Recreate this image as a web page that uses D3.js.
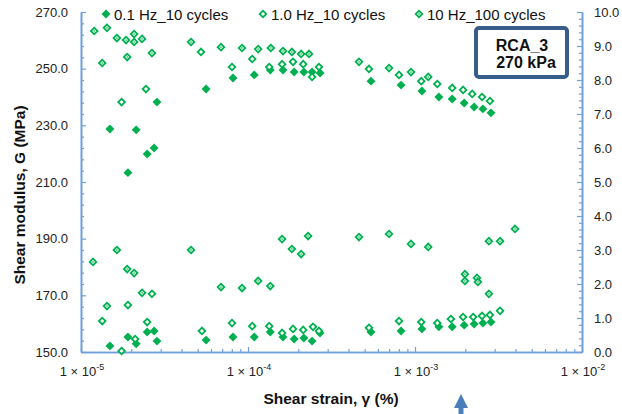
<!DOCTYPE html>
<html>
<head>
<meta charset="utf-8">
<script src="https://cdn.jsdelivr.net/npm/d3@7"></script>
<style>
  body { margin: 0; background: #fff; }
  svg { display: block; font-family: Arial, "Liberation Sans", sans-serif; }
</style>
</head>
<body>
<svg id="chart" width="622" height="414"></svg>
<script>
// Shear strain in %, shear modulus in MPa, damping ratio in %.
const seriesNames = ["0.1 Hz_10 cycles", "1.0 Hz_10 cycles", "10 Hz_100 cycles"];

// 0.1 Hz, 10 cycles (same strain for G and D)
const strainSlow = [1.49e-5, 1.91e-5, 2.14e-5, 2.49e-5, 2.74e-5, 2.85e-5, 5.61e-5, 8.13e-5,
  1.09e-4, 1.36e-4, 1.62e-4, 1.89e-4, 2.16e-4, 2.42e-4, 2.70e-4, 5.45e-4, 8.25e-4,
  1.10e-3, 1.39e-3, 1.67e-3, 1.97e-3, 2.26e-3, 2.55e-3, 2.85e-3];
const modulusSlow = [228.7, 213.3, 228.4, 219.9, 222.0, 238.2, 242.8, 246.7,
  247.8, 249.5, 249.5, 248.8, 248.8, 248.8, 248.5, 245.6, 244.2,
  242.1, 240.0, 239.3, 237.9, 236.5, 235.8, 234.4];
const dampingSlow = [0.18, 0.44, 0.24, 0.59, 0.62, 0.32, 0.35, 0.44,
  0.44, 0.59, 0.44, 0.38, 0.41, 0.32, 0.56, 0.59, 0.62,
  0.68, 0.74, 0.74, 0.79, 0.82, 0.85, 0.88];

// 1.0 Hz, 10 cycles
const strainMidG = [1.75e-5, 2.45e-5, 5.23e-5, 8.02e-5, 1.06e-4, 1.34e-4, 1.60e-4, 1.86e-4,
  2.14e-4, 2.42e-4, 2.66e-4, 5.30e-4, 8.02e-4, 1.09e-3, 1.36e-3, 1.67e-3,
  1.94e-3, 2.20e-3, 2.52e-3, 2.81e-3];
const modulusMid = [238.2, 242.8, 255.9, 250.6, 253.4, 250.6, 251.6, 252.4,
  251.6, 247.1, 250.6, 249.9, 247.8, 245.6, 244.6, 243.2,
  242.5, 241.1, 240.0, 238.6];
const strainMidD = [1.34e-5, 1.75e-5, 1.91e-5, 2.11e-5, 2.49e-5, 2.66e-5, 5.30e-5, 8.02e-5,
  1.06e-4, 1.34e-4, 1.60e-4, 1.86e-4, 2.14e-4, 2.45e-4, 2.66e-4, 5.30e-4,
  8.02e-4, 1.09e-3, 1.36e-3, 1.64e-3, 1.94e-3, 2.23e-3, 2.52e-3, 2.81e-3, 3.23e-3];
const dampingMid = [0.91, 0.03, 1.38, 0.38, 0.88, 1.71, 0.62, 0.85,
  0.76, 0.76, 0.56, 0.68, 0.65, 0.74, 0.62, 0.71,
  0.91, 0.88, 0.85, 0.97, 1.03, 1.03, 1.06, 1.09, 1.21];

// 10 Hz, 100 cycles
const strainFastG = [1.20e-5, 1.34e-5, 1.43e-5, 1.64e-5, 1.86e-5, 1.89e-5, 2.08e-5, 2.08e-5,
  2.32e-5, 2.66e-5, 4.56e-5, 6.89e-5, 9.21e-5, 1.15e-4, 1.37e-4, 1.62e-4,
  1.83e-4, 2.08e-4, 2.32e-4, 4.62e-4, 6.99e-4, 9.46e-4, 1.20e-3];
const modulusFast = [263.3, 252.0, 264.4, 260.8, 260.1, 254.1, 262.2, 259.4,
  260.5, 255.5, 259.4, 257.6, 257.3, 256.9, 257.3, 256.2,
  255.9, 255.2, 255.2, 252.4, 250.2, 248.8, 247.1];
const strainFastD = [1.18e-5, 1.43e-5, 1.64e-5, 1.89e-5, 2.08e-5, 2.32e-5, 4.56e-5, 6.89e-5,
  9.21e-5, 1.15e-4, 1.36e-4, 1.60e-4, 1.83e-4, 2.08e-4, 2.29e-4, 4.62e-4,
  6.99e-4, 9.46e-4, 1.20e-3, 1.99e-3, 1.99e-3, 2.35e-3, 2.38e-3, 2.77e-3,
  2.77e-3, 3.23e-3, 3.97e-3];
const dampingFast = [2.65, 1.35, 3.00, 2.44, 2.32, 1.74, 3.00, 1.91,
  1.88, 2.09, 1.94, 3.32, 3.03, 2.88, 3.41, 3.38,
  3.47, 3.18, 3.09, 2.29, 2.09, 2.18, 2.06, 1.71,
  3.26, 3.26, 3.62];

// Axis ticks
const modulusTicks = [150, 170, 190, 210, 230, 250, 270];
const dampingTicks = [0, 1, 2, 3, 4, 5, 6, 7, 8, 9, 10];
const strainTicks = [1e-5, 1e-4, 1e-3, 1e-2];
const strainTickExps = ["-5", "-4", "-3", "-2"];
const boxLines = ["RCA_3", "270 kPa"];

const green = "#00B050";
const axisBlue = "#6FA0DA";

const svg = d3.select("#chart");
const plot = { left: 81, right: 582, top: 12, bottom: 352 };

const x = d3.scaleLog().domain([1e-5, 1e-2]).range([plot.left, plot.right]);
const yG = d3.scaleLinear().domain([150, 270]).range([plot.bottom, plot.top]);
const yD = d3.scaleLinear().domain([0, 10]).range([plot.bottom, plot.top]);

function styleAxis(g) {
  g.selectAll("path.domain").attr("stroke", axisBlue).attr("stroke-width", 1.6);
  g.selectAll(".tick line").attr("stroke", axisBlue).attr("stroke-width", 1.2);
  g.selectAll(".tick text").attr("fill", "#222").attr("font-size", 13)
    .attr("font-family", "Arial, 'Liberation Sans', sans-serif");
}

// minor ticks
const minorG = d3.range(150, 270.1, 4).filter(v => !modulusTicks.includes(v));
const minorD = d3.range(0, 50.1, 1).map(v => v / 5).filter(v => !Number.isInteger(v));
const minorX = [];
[1e-5, 1e-4, 1e-3].forEach(d => { for (let k = 2; k <= 9; k++) minorX.push(d * k); });

svg.append("g").attr("transform", `translate(${plot.left},0)`)
  .call(d3.axisLeft(yG).tickValues(minorG).tickSize(-3).tickSizeOuter(0).tickFormat(""))
  .call(styleAxis);
svg.append("g").attr("transform", `translate(${plot.right},0)`)
  .call(d3.axisRight(yD).tickValues(minorD).tickSize(-3).tickSizeOuter(0).tickFormat(""))
  .call(styleAxis);
svg.append("g").attr("transform", `translate(0,${plot.bottom})`)
  .call(d3.axisBottom(x).tickValues(minorX).tickSize(-3).tickSizeOuter(0).tickFormat(""))
  .call(styleAxis);

svg.append("g").attr("transform", `translate(${plot.left},0)`)
  .call(d3.axisLeft(yG).tickValues(modulusTicks).tickSize(-5).tickSizeOuter(0)
    .tickPadding(13).tickFormat(d3.format(".1f")))
  .call(styleAxis);
svg.append("g").attr("transform", `translate(${plot.right},0)`)
  .call(d3.axisRight(yD).tickValues(dampingTicks).tickSize(-5).tickSizeOuter(0)
    .tickPadding(12).tickFormat(d3.format(".1f")))
  .call(styleAxis);
svg.append("g").attr("transform", `translate(0,${plot.bottom})`)
  .call(d3.axisBottom(x).tickValues(strainTicks).tickSize(-5).tickSizeOuter(0).tickFormat(""))
  .call(styleAxis);

// strain tick labels with superscript exponents
strainTicks.forEach((t, i) => {
  const txt = svg.append("text")
    .attr("x", x(t) + 1).attr("y", 376)
    .attr("text-anchor", "middle").attr("font-size", 13).attr("fill", "#222");
  txt.append("tspan").text("1 \u00d7 10");
  txt.append("tspan").attr("font-size", 9).attr("dy", -6).text(strainTickExps[i]);
});

// axis titles
svg.append("text")
  .attr("transform", "translate(25,195) rotate(-90)")
  .attr("text-anchor", "middle").attr("font-weight", "bold").attr("font-size", 15.5)
  .attr("fill", "#111").text("Shear modulus, G (MPa)");
svg.append("text")
  .attr("x", 331).attr("y", 404)
  .attr("text-anchor", "middle").attr("font-weight", "bold").attr("font-size", 15.5)
  .attr("fill", "#111").text("Shear strain, \u03b3 (%)");

// markers
const filledSym = d3.symbol().type(d3.symbolSquare).size(40);
const openSym = d3.symbol().type(d3.symbolSquare).size(22);

function drawMarker(g, cx, cy, kind) {
  const m = g.append("g").attr("transform", `translate(${cx},${cy}) rotate(45)`);
  if (kind === 0) {
    m.append("path").attr("d", filledSym()).attr("fill", green);
  } else {
    m.append("path").attr("d", openSym()).attr("fill", "#fff")
      .attr("stroke", green).attr("stroke-width", 1.8);
    if (kind === 2) {
      m.append("rect").attr("x", -0.8).attr("y", -0.8).attr("width", 1.6).attr("height", 1.6)
        .attr("fill", green).attr("opacity", 0.75);
    }
  }
}

const layers = [
  { kind: 0, pts: strainSlow.map((s, i) => [x(s), yG(modulusSlow[i])])
      .concat(strainSlow.map((s, i) => [x(s), yD(dampingSlow[i])])) },
  { kind: 1, pts: strainMidG.map((s, i) => [x(s), yG(modulusMid[i])])
      .concat(strainMidD.map((s, i) => [x(s), yD(dampingMid[i])])) },
  { kind: 2, pts: strainFastG.map((s, i) => [x(s), yG(modulusFast[i])])
      .concat(strainFastD.map((s, i) => [x(s), yD(dampingFast[i])])) }
];
const marks = svg.append("g");
layers.forEach(l => l.pts.forEach(p => drawMarker(marks, p[0], p[1], l.kind)));

// legend
const legendX = [106, 263, 419];
const legend = svg.append("g");
seriesNames.forEach((name, i) => {
  drawMarker(legend, legendX[i], 14, i);
  legend.append("text").attr("x", legendX[i] + 8).attr("y", 19.5)
    .attr("font-size", 15).attr("fill", "#111").text(name);
});

// specimen label box
svg.append("rect").attr("x", 476).attr("y", 28).attr("width", 91).attr("height", 49)
  .attr("rx", 3).attr("fill", "#fff").attr("stroke", "#385D8A").attr("stroke-width", 4);
svg.append("text").attr("x", 522).attr("y", 51).attr("text-anchor", "middle")
  .attr("font-weight", "bold").attr("font-size", 16).attr("fill", "#111").text(boxLines[0]);
svg.append("text").attr("x", 526).attr("y", 68).attr("text-anchor", "middle")
  .attr("font-weight", "bold").attr("font-size", 16).attr("fill", "#111").text(boxLines[1]);

// pointer arrow below the strain axis
svg.append("path")
  .attr("d", "M461,394 L468,408 L463.5,408 L463.5,414 L458.5,414 L458.5,408 L454,408 Z")
  .attr("fill", "#4A7EBB");
</script>
</body>
</html>
